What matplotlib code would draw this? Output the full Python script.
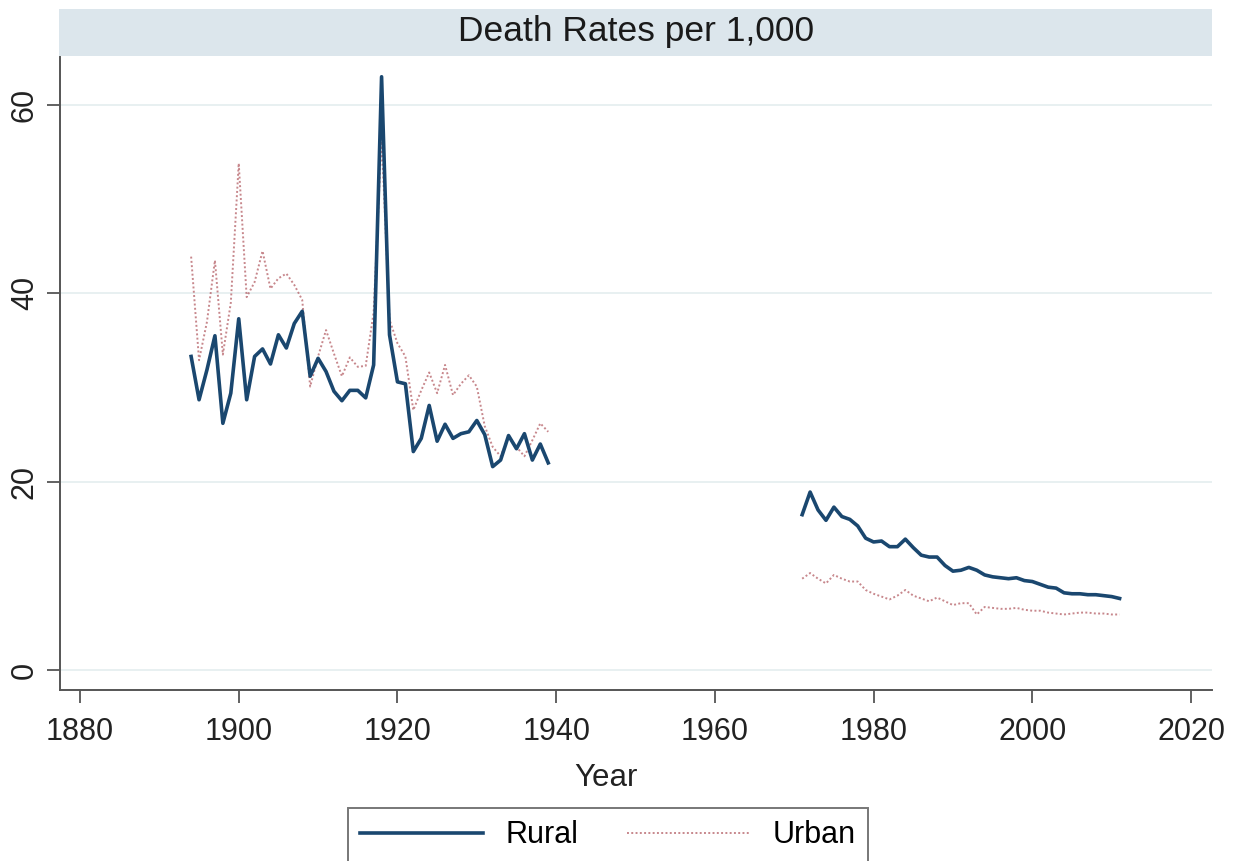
import numpy as np
import matplotlib.pyplot as plt

# early period 1894-1939, late period 1971-2011
years_early = list(range(1894, 1940))
years_late = list(range(1971, 2012))

rural_early = [33.3, 28.7, 31.9, 35.5, 26.2, 29.4, 37.3, 28.7, 33.3, 34.1,
               32.5, 35.6, 34.2, 36.8, 38.1, 31.2, 33.1, 31.7, 29.6, 28.6,
               29.7, 29.7, 28.9, 32.4, 63.0, 35.6, 30.6, 30.4, 23.2, 24.6,
               28.1, 24.3, 26.1, 24.6, 25.1, 25.3, 26.5, 25.0, 21.6, 22.3,
               24.9, 23.5, 25.1, 22.3, 24.0, 22.0]
urban_early = [43.9, 32.9, 37.0, 43.5, 33.5, 39.0, 53.8, 39.6, 41.2, 44.5,
               40.5, 41.6, 42.1, 40.9, 39.3, 30.1, 33.3, 36.1, 33.6, 31.2,
               33.2, 32.2, 32.3, 38.0, 56.6, 37.2, 34.7, 33.3, 27.6, 29.7,
               31.6, 29.4, 32.4, 29.2, 30.4, 31.3, 30.1, 25.9, 23.7, 22.7,
               24.8, 23.7, 22.7, 24.4, 26.2, 25.3]

rural_late = [16.5, 18.9, 17.0, 15.9, 17.3, 16.3, 16.0, 15.3, 14.0, 13.6,
              13.7, 13.1, 13.1, 13.9, 13.0, 12.2, 12.0, 12.0, 11.1, 10.5,
              10.6, 10.9, 10.6, 10.1, 9.9, 9.8, 9.7, 9.8, 9.5, 9.4,
              9.1, 8.8, 8.7, 8.2, 8.1, 8.1, 8.0, 8.0, 7.9, 7.8, 7.6]
urban_late = [9.7, 10.3, 9.7, 9.2, 10.1, 9.7, 9.4, 9.4, 8.5, 8.1,
              7.8, 7.5, 7.9, 8.5, 7.9, 7.6, 7.3, 7.7, 7.3, 6.9,
              7.1, 7.1, 5.9, 6.7, 6.6, 6.5, 6.5, 6.6, 6.4, 6.3,
              6.3, 6.1, 6.0, 5.9, 6.0, 6.1, 6.1, 6.0, 6.0, 5.9, 5.9]

# join with a gap so the two periods are not connected
years = years_early + [1955] + years_late
rural = rural_early + [np.nan] + rural_late
urban = urban_early + [np.nan] + urban_late

plt.rcParams['font.family'] = ['Liberation Sans', 'DejaVu Sans']

navy = '#1a476f'
maroon = '#b0555c'

fig = plt.figure(figsize=(12.35, 8.61), dpi=100)
ax = fig.add_axes([0.0486, 0.1986, 0.9325, 0.7352])

ax.plot(years, urban, color=maroon, lw=1.4, alpha=0.7,
        linestyle=(0, (1, 1.2)), label='Urban', zorder=3)
ax.plot(years, rural, color=navy, lw=2.6, label='Rural', zorder=4)

ax.set_xlim(1877.48, 2022.6)
ax.set_ylim(-2.12, 65.1)
ax.set_xticks(range(1880, 2021, 20))
ax.set_yticks([0, 20, 40, 60])
ax.grid(axis='y', color='#e6eff0', lw=1.3)
ax.set_axisbelow(True)

for s in ['top', 'right']:
    ax.spines[s].set_visible(False)
for s in ['left', 'bottom']:
    ax.spines[s].set_color('#555555')
    ax.spines[s].set_linewidth(1.4)

ax.tick_params(axis='both', length=9.5, width=1.3, color='#555555',
               labelsize=22, labelcolor='#222222')
ax.tick_params(axis='x', pad=10)
ax.tick_params(axis='y', pad=5)
for lab in ax.get_yticklabels():
    lab.set_rotation(90)
    lab.set_va('center')

ax.set_xlabel('Year', fontsize=22.5, color='#222222')
ax.xaxis.set_label_coords(0.474, -0.116)

# title band
fig.patches.append(plt.Rectangle((59 / 1235, 1 - 56 / 861), 1153 / 1235, 47 / 861,
                                 transform=fig.transFigure, facecolor='#dce6ec',
                                 edgecolor='none'))
fig.text(636 / 1235, 1 - 32 / 861, 'Death Rates per 1,000', fontsize=25.5,
         color='#1a1a1a', ha='center', va='center')

h, l = ax.get_legend_handles_labels()
leg = fig.legend([h[1], h[0]], [l[1], l[0]], loc='upper center',
                 bbox_to_anchor=(608 / 1235, 1 - 808 / 861), ncol=2,
                 fontsize=22, frameon=True, fancybox=False,
                 handlelength=4.0, handletextpad=0.75, columnspacing=1.6,
                 borderpad=0.4, borderaxespad=0)
leg.get_frame().set_edgecolor('#555555')
leg.get_frame().set_linewidth(1.4)

fig.savefig('out.png', dpi=100)
